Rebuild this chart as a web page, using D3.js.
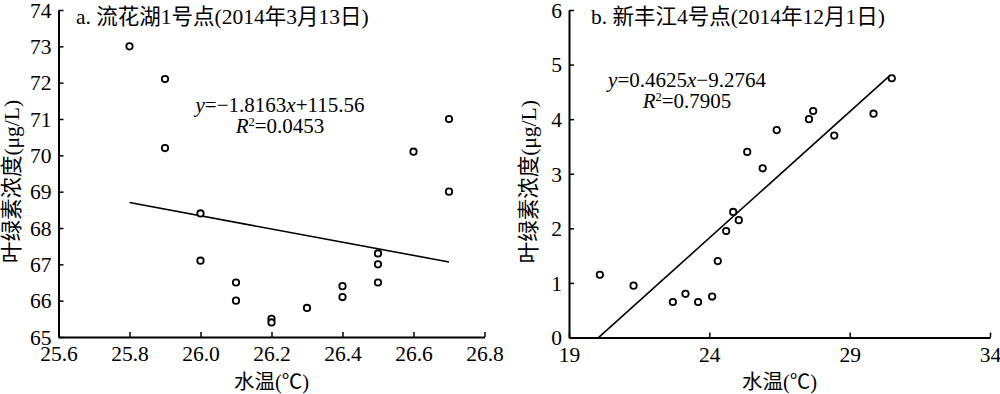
<!DOCTYPE html>
<html><head><meta charset="utf-8">
<script src="https://cdn.jsdelivr.net/npm/d3@7"></script>
<style>
body{margin:0;background:#fff;}
</style></head>
<body>
<svg id="c" width="1000" height="394"></svg>
<script>
// Panel a: 流花湖1号点
const aTemp = [25.8, 25.9, 25.9, 26.0, 26.0, 26.1, 26.1, 26.2, 26.2, 26.3, 26.4, 26.4, 26.5, 26.5, 26.5, 26.6, 26.7, 26.7];
const aChl  = [73.0, 72.1, 70.2, 68.4, 67.1, 66.5, 66.0, 65.5, 65.4, 65.8, 66.4, 66.1, 67.3, 67.0, 66.5, 70.1, 71.0, 69.0];
const aXTicks = [25.6, 25.8, 26.0, 26.2, 26.4, 26.6, 26.8];
const aYTicks = [65, 66, 67, 68, 69, 70, 71, 72, 73, 74];
const aFit = {slope: -1.8163, intercept: 115.56, x0: 25.8, x1: 26.7};

// Panel b: 新丰江4号点
const bTemp = [20.1, 21.3, 22.7, 23.15, 23.6, 24.1, 24.3, 24.6, 24.85, 25.05, 25.35, 25.9, 26.4, 27.55, 27.7, 28.45, 29.85, 30.5];
const bChl  = [1.15, 0.95, 0.65, 0.8, 0.65, 0.75, 1.4, 1.95, 2.3, 2.15, 3.4, 3.1, 3.8, 4.0, 4.15, 3.7, 4.1, 4.75];
const bXTicks = [19, 24, 29, 34];
const bYTicks = [0, 1, 2, 3, 4, 5, 6];
const bFit = {slope: 0.4625, intercept: -9.2764, x0: 20.06, x1: 30.45};

const FONT = "'Liberation Serif', 'Noto Sans CJK SC', serif";
const svg = d3.select("#c");

function panel(o) {
  const g = svg.append("g");
  const x = d3.scaleLinear().domain(o.xd).range([o.left, o.right]);
  const y = d3.scaleLinear().domain(o.yd).range([o.bottom, o.top]);

  const xa = g.append("g").attr("transform", `translate(0,${o.bottom})`)
    .call(d3.axisBottom(x).tickValues(o.xt).tickFormat(o.xf).tickSizeInner(-5).tickSizeOuter(0).tickPadding(9));
  const ya = g.append("g").attr("transform", `translate(${o.left},0)`)
    .call(d3.axisLeft(y).tickValues(o.yt).tickFormat(d3.format("d")).tickSizeInner(-5).tickSizeOuter(0).tickPadding(7));
  [xa, ya].forEach(a => {
    a.attr("font-family", null).attr("font-size", null);
    a.select(".domain").attr("stroke", "#000").attr("stroke-width", 2);
    a.selectAll(".tick line").attr("stroke", "#000").attr("stroke-width", 1.5);
    a.selectAll("text").style("font-size", "21.5px").style("font-family", FONT).attr("fill", "#000");
  });
  xa.selectAll("text").attr("dy", "0.71em");
  ya.selectAll("text").attr("dy", "0.34em");

  // fit line
  g.append("line")
    .attr("x1", x(o.fit.x0)).attr("y1", y(o.fit.slope * o.fit.x0 + o.fit.intercept))
    .attr("x2", x(o.fit.x1)).attr("y2", y(o.fit.slope * o.fit.x1 + o.fit.intercept))
    .attr("stroke", "#000").attr("stroke-width", 1.6);

  // points
  g.selectAll("circle.p").data(o.xs.map((v, i) => [v, o.ys[i]])).enter()
    .append("circle").attr("class", "p")
    .attr("cx", d => x(d[0])).attr("cy", d => y(d[1])).attr("r", 3.2)
    .attr("fill", "#fff").attr("stroke", "#000").attr("stroke-width", 1.8);

  const T = (sel, size) => sel.style("font-family", FONT).style("font-size", size).attr("fill", "#000");

  // title
  T(g.append("text").attr("x", o.titleX).attr("y", 24), "21.5px").text(o.title);

  // equation
  const eq = T(g.append("text").attr("x", o.eqX).attr("y", o.eqY).attr("text-anchor", "middle"), "21px");
  eq.append("tspan").attr("font-style", "italic").text("y");
  eq.append("tspan").text(o.eqMid);
  eq.append("tspan").attr("font-style", "italic").text("x");
  eq.append("tspan").text(o.eqEnd);
  const r2 = T(g.append("text").attr("x", o.eqX).attr("y", o.eqY + 21).attr("text-anchor", "middle"), "21px");
  r2.append("tspan").attr("font-style", "italic").text("R");
  r2.append("tspan").attr("dy", -7).style("font-size", "12.5px").text("2");
  r2.append("tspan").attr("dy", 7).text(o.r2);

  // axis labels
  T(g.append("text").attr("x", (o.left + o.right) / 2).attr("y", 389).attr("text-anchor", "middle"), "20.5px")
    .text("水温(℃)");
  T(g.append("text").attr("transform", `translate(${o.ylabX},${(o.top + o.bottom) / 2 + 8}) rotate(-90)`)
    .attr("text-anchor", "middle"), "21.5px").text("叶绿素浓度(μg/L)");
}

panel({
  xd: [25.6, 26.8], yd: [65, 74], left: 58.5, right: 484.5, top: 10, bottom: 337,
  xt: aXTicks, yt: aYTicks, xf: d3.format(".1f"), xs: aTemp, ys: aChl, fit: aFit,
  title: "a. 流花湖1号点(2014年3月13日)", titleX: 76,
  eqX: 280, eqY: 112, eqMid: "=−1.8163", eqEnd: "+115.56", r2: "=0.0453", ylabX: 19
});
panel({
  xd: [19, 34], yd: [0, 6], left: 569, right: 990, top: 10, bottom: 337.5,
  xt: bXTicks, yt: bYTicks, xf: d3.format("d"), xs: bTemp, ys: bChl, fit: bFit,
  title: "b. 新丰江4号点(2014年12月1日)", titleX: 591,
  eqX: 687, eqY: 87, eqMid: "=0.4625", eqEnd: "−9.2764", r2: "=0.7905", ylabX: 536
});
</script>
</body></html>
